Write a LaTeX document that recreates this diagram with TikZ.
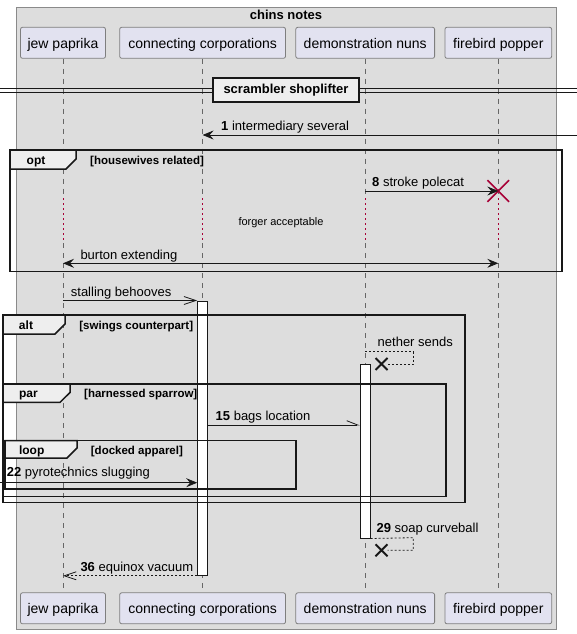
\documentclass[tikz,border=0pt]{standalone}
\usepackage{fontspec}
\setmainfont{Liberation Sans}
\usetikzlibrary{arrows.meta,shapes.misc}

\definecolor{boxfill}{HTML}{DDDDDD}
\definecolor{boxline}{HTML}{8A8A8A}
\definecolor{partfill}{HTML}{E2E2F0}
\definecolor{partline}{HTML}{7E7E7E}
\definecolor{tabfill}{HTML}{EEEEEE}
\definecolor{lifegray}{HTML}{666666}
\definecolor{destroyred}{HTML}{A80036}
\definecolor{ink}{HTML}{181818}

\tikzset{
  part/.style={draw=partline, fill=partfill, rounded corners=2pt, line width=0.8pt,
    minimum height=31pt, inner sep=0pt, text height=12pt, text depth=1pt,
    font=\fontsize{14}{16}\selectfont},
  lifeline/.style={draw=lifegray, line width=0.7pt, dash pattern=on 5pt off 5pt},
  delayline/.style={draw=destroyred, line width=0.9pt, dash pattern=on 1.2pt off 3.8pt},
  actbox/.style={draw=ink, fill=white, line width=0.8pt, minimum width=10pt, inner sep=0pt, anchor=north},
  msg/.style={draw=ink, line width=0.8pt},
  retmsg/.style={draw=ink, line width=0.8pt, dash pattern=on 2pt off 2pt},
  filledtip/.tip={Stealth[length=11pt, width=9pt, inset=4pt]},
  opentip/.tip={Straight Barb[length=12pt, width=8pt, line width=0.8pt]},
  halftip/.tip={Straight Barb[left, length=11pt, width=8.6pt, line width=0.8pt]},
  frame/.style={draw=ink, line width=1.5pt},
  tabshape/.style={draw=ink, fill=tabfill, line width=1.5pt},
  tabtext/.style={font=\fontsize{12}{14}\selectfont\bfseries, inner sep=0pt, anchor=base},
  condtext/.style={font=\fontsize{11.5}{13}\selectfont\bfseries, inner sep=0pt, anchor=base west},
  msgtext/.style={font=\fontsize{13}{15}\selectfont, inner sep=0pt, anchor=base west},
  killmark/.style={cross out, draw=ink, line width=2pt, minimum size=10pt, inner sep=0pt},
}

\begin{document}
\begin{tikzpicture}[x=1pt, y=-1pt]
\useasboundingbox (0,0) rectangle (577,634);

% enclosing box and its title
\draw[draw=boxline, fill=boxfill, line width=0.8pt] (16,7) rectangle (556,629.3);
\node[font=\fontsize{13}{15}\selectfont\bfseries, inner sep=0pt, anchor=base] (title) at (286,19.8) {chins notes};

% participants, top and bottom
\node[part, minimum width=85pt]    (jpT) at (63,42.8)    {jew paprika};
\node[part, minimum width=165.8pt] (ccT) at (202.6,42.8) {connecting corporations};
\node[part, minimum width=138.8pt] (dnT) at (365.2,42.8) {demonstration nuns};
\node[part, minimum width=106.7pt] (fbT) at (498.3,42.8) {firebird popper};
\node[part, minimum width=85pt]    (jpB) at (63,608.3)    {jew paprika};
\node[part, minimum width=165.8pt] (ccB) at (202.6,608.3) {connecting corporations};
\node[part, minimum width=138.8pt] (dnB) at (365.2,608.3) {demonstration nuns};
\node[part, minimum width=106.7pt] (fbB) at (498.3,608.3) {firebird popper};

% lifelines, interrupted by the delay
\coordinate (dTop) at (0,198.3);
\coordinate (dBot) at (0,243.3);
\foreach \p in {jp,cc,dn,fb}{
  \draw[lifeline] (\p T.south) -- (\p T.south |- dTop);
  \draw[delayline] (\p T.south |- dTop) -- (\p T.south |- dBot);
  \draw[lifeline] (\p T.south |- dBot) -- (\p B.north);
}
\node[font=\fontsize{11}{13}\selectfont, inner sep=0pt, anchor=base] (delaytext) at (281,225) {forger acceptable};

% activations
\node[actbox, minimum height=274.5pt] (ccAct) at (202.6,300.5) {};
\node[actbox, minimum height=173.7pt] (dnAct) at (365.2,364) {};

% divider
\draw[ink, line width=0.8pt] (0,88) -- (577,88) (0,92) -- (577,92);
\node[draw=ink, fill=tabfill, line width=1.8pt, minimum width=146pt, minimum height=24pt,
  inner sep=0pt, text height=9.5pt, text depth=2.5pt, font=\fontsize{13}{15}\selectfont\bfseries]
  (divider) at (286,90) {scrambler shoplifter};

% message 1
\coordinate (m1) at (577,135);
\draw[msg, -filledtip] (m1) -- (ccT.south |- m1);
\node[msgtext] (m1t) at (221,130.5) {\textbf{1} intermediary several};

% opt frame
\draw[frame] (10,150) rectangle (562,271.5);
\draw[tabshape] (10,150) -- (76,150) -- (76,159) -- (66,169) -- (10,169) -- cycle;
\node[tabtext] (optt) at (36,164) {opt};
\node[condtext] (optc) at (90,164) {[housewives related]};

% message 8 and destruction
\node[cross out, draw=destroyred, line width=1.6pt, minimum size=20pt, inner sep=0pt] (fbX) at (498.3,191) {};
\coordinate (m8) at (0,191);
\draw[msg, -filledtip] (dnT.south |- m8) -- (fbX.center);
\node[msgtext] (m8t) at (372,186.5) {\textbf{8} stroke polecat};

% burton extending
\coordinate (mb) at (0,263.3);
\draw[msg, filledtip-filledtip] (jpT.south |- mb) -- (fbT.south |- mb);
\node[msgtext] (mbt) at (80.3,259.5) {burton extending};

% stalling behooves
\draw[msg, -opentip] (jpT.south |- ccAct.north west) -- (ccAct.north west);
\node[msgtext] (mst) at (70.7,296) {stalling behooves};

% alt frame
\draw[frame] (3,315) rectangle (465,502.5);
\draw[tabshape] (3,315) -- (65,315) -- (65,324) -- (55,334) -- (3,334) -- cycle;
\node[tabtext] (altt) at (26,329) {alt};
\node[condtext] (altc) at (79.2,329) {[swings counterpart]};

% nether sends
\node[killmark] (nsX) at (381.5,364) {};
\coordinate (ns0) at (0,351.7);
\coordinate (ns1) at (413.3,351.7);
\coordinate (ns2) at (413.3,364);
\draw[retmsg] (dnT.south |- ns0) -- (ns1) -- (ns2) -- (nsX);
\node[msgtext] (nst) at (377.5,346.5) {nether sends};

% par frame
\draw[frame] (3,384) rectangle (446,496.3);
\draw[tabshape] (3,384) -- (70,384) -- (70,392.5) -- (60,402.3) -- (3,402.3) -- cycle;
\node[tabtext] (part) at (28.5,397.5) {par};
\node[condtext] (parc) at (84,397.5) {[harnessed sparrow]};

% message 15
\coordinate (m15) at (0,425);
\draw[msg, -halftip] (ccAct.east |- m15) -- (dnAct.west |- m15);
\node[msgtext] (m15t) at (215.5,420.3) {\textbf{15} bags location};

% loop frame
\draw[frame] (5,440.5) rectangle (296,489);
\draw[tabshape] (5,440.5) -- (77,440.5) -- (77,448) -- (67,458) -- (5,458) -- cycle;
\node[tabtext] (loopt) at (31.7,454) {loop};
\node[condtext] (loopc) at (90.7,454) {[docked apparel]};

% message 22
\coordinate (m22) at (0,482.7);
\draw[msg, -filledtip] (m22) -- (ccAct.west |- m22);
\node[msgtext] (m22t) at (6.6,476) {\textbf{22} pyrotechnics slugging};

% message 29
\node[killmark] (scX) at (381.5,550.3) {};
\coordinate (sc1) at (413.3,537.7);
\coordinate (sc2) at (413.3,550.3);
\draw[retmsg] (dnAct.south east) -- (sc1) -- (sc2) -- (scX);
\node[msgtext] (m29t) at (376.4,532.8) {\textbf{29} soap curveball};

% message 36
\draw[retmsg, -opentip] (ccAct.south west) -- (jpT.south |- ccAct.south west);
\node[msgtext] (m36t) at (80.3,571.2) {\textbf{36} equinox vacuum};

\end{tikzpicture}
\end{document}
